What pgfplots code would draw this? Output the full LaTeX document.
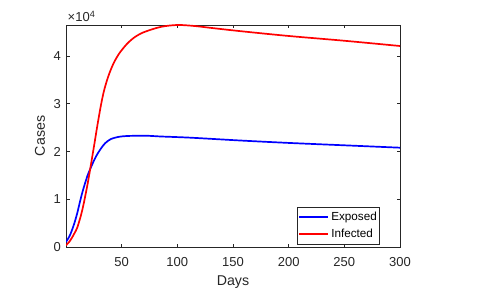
\documentclass[border=0pt]{standalone}
\usepackage{fontspec}
\setmainfont{Liberation Sans}
\usepackage{pgfplots}
\pgfplotsset{compat=1.18}
\definecolor{axgray}{RGB}{38,38,38}
\begin{document}
\begin{tikzpicture}
\useasboundingbox (-66bp,-44bp) rectangle (427bp,247bp);
\begin{axis}[
  name=ax,
  at={(0,0)}, anchor=south west,
  scale only axis, width=334bp, height=222bp,
  xmin=0, xmax=300, ymin=0, ymax=46500,
  xtick={50,100,150,200,250,300},
  ytick={0,10000,20000,30000,40000},
  scaled y ticks=base 10:-4,
  ytick scale label code/.code={},
  /pgf/number format/assume math mode=true,
  tick label style={font=\fontsize{13bp}{15bp}\selectfont, text=axgray},
  xticklabel style={anchor=north, inner sep=0pt, yshift=-10bp},
  yticklabel style={anchor=east, inner sep=0pt, xshift=-5bp},
  tick align=inside, major tick length=3.5bp,
  axis line style={axgray, line width=0.6bp},
  every tick/.style={axgray, line width=0.6bp},
  xlabel={Days},
  label style={font=\fontsize{14.2bp}{16bp}\selectfont, text=axgray},
  xlabel style={at={(rel axis cs:0.5,0)}, anchor=base, yshift=-38.7bp},
  legend cell align=left,
  legend image code/.code={\draw[#1, line width=2bp] (0bp,0bp) -- (29bp,0bp);},
  legend style={at={(0.939,0.01)}, anchor=south east,
    draw=axgray, line width=0.6bp, inner xsep=0.5bp, inner ysep=1.5bp,
    font=\fontsize{11.7bp}{13bp}\selectfont,
    nodes={inner xsep=2bp, inner ysep=3bp, text height=8.5bp, text depth=2.5bp}},
]
\addplot[blue, line width=1.7bp, smooth, tension=0.5] coordinates {
(0,1050) (3,2200) (5,3300) (7.4,4900) (10,7000) (13.4,10300) (16,12500) (19.4,15000)
(21.7,16300) (25.3,18200) (28,19400) (31.3,20600) (35,21700) (40.2,22600) (48,23100)
(55,23250) (65,23300) (75,23280) (85,23150) (111.6,22900) (157,22300) (200,21800)
(250,21300) (300,20800)};
\addlegendentry{Exposed}
\addplot[red, line width=1.7bp, smooth, tension=0.5] coordinates {
(0,350) (3,1100) (5,1800) (7.4,2800) (10,4000) (13.4,6600) (16,9200) (19.4,13200)
(21.7,16300) (25.3,21300) (28,25200) (31.3,29600) (34,32600) (37.2,35200) (40,37000)
(43.2,38700) (48,40600) (55,42600) (62,44000) (70,45000) (85,46100) (100,46500)
(115,46300) (130,45900) (157,45200) (200,44200) (250,43200) (300,42100)};
\addlegendentry{Infected}
\end{axis}
\node[anchor=base west, inner sep=0pt, text=axgray, font=\fontsize{13bp}{15bp}\selectfont]
  at ([yshift=3bp, xshift=1.5bp]ax.north west) {×10\textsuperscript{4}};
\node[rotate=90, anchor=center, inner sep=0pt, text=axgray, font=\fontsize{14.2bp}{16bp}\selectfont]
  at ([xshift=-26bp]ax.west) {Cases};
\end{tikzpicture}
\end{document}
